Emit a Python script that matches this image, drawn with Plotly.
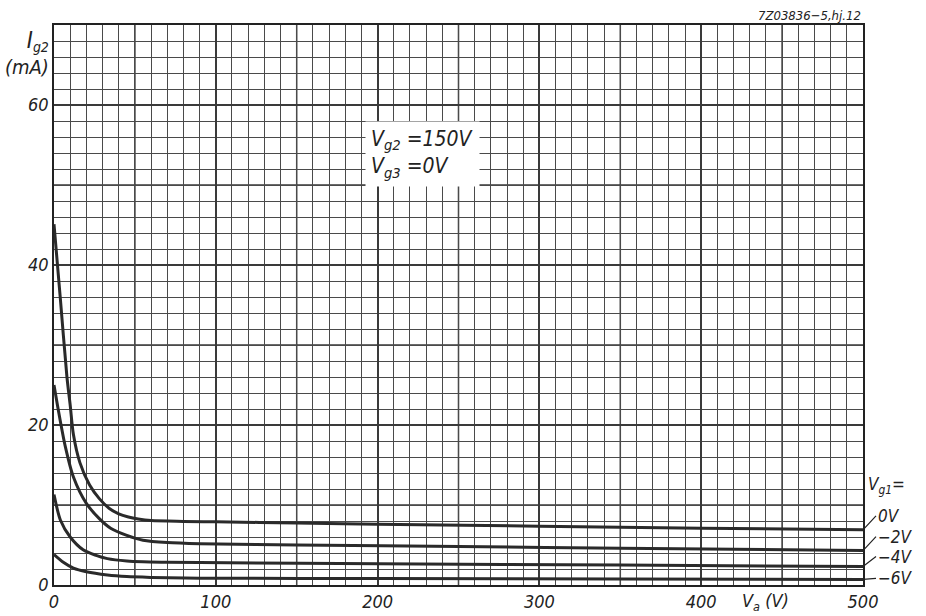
import plotly.graph_objects as go

# ---- data ----
va_0 = [0, 4, 8, 10, 12, 16, 22, 28, 34, 40, 46, 52, 60, 80, 100, 150, 200, 300, 400, 500]
ig2_0 = [45.1, 35.6, 26.0, 22.5, 18.8, 15.3, 12.5, 10.8, 9.6, 8.9, 8.5, 8.25, 8.05, 7.95, 7.9, 7.75, 7.6, 7.35, 7.1, 6.9]

va_m2 = [0, 3, 7, 12, 20, 28, 35, 45, 55, 70, 90, 150, 250, 350, 500]
ig2_m2 = [25.0, 21.5, 17.3, 13.5, 10.2, 8.3, 7.1, 6.2, 5.6, 5.3, 5.15, 5.0, 4.8, 4.6, 4.3]

va_m4 = [0, 4, 10, 18, 26, 33, 45, 55, 70, 90, 200, 350, 500]
ig2_m4 = [11.3, 8.1, 6.0, 4.4, 3.7, 3.3, 3.0, 2.9, 2.85, 2.8, 2.65, 2.5, 2.3]

va_m6 = [0, 6, 12, 20, 33, 45, 60, 90, 200, 350, 500]
ig2_m6 = [3.8, 2.8, 2.1, 1.65, 1.25, 1.05, 0.95, 0.85, 0.8, 0.75, 0.7]

curve_labels = ["0V", "\u22122V", "\u22124V", "\u22126V"]
x_tickvals = [0, 100, 200, 300, 400, 500]
y_tickvals = [0, 20, 40, 60]
x_heavy = [50, 150, 250, 350, 450]
y_heavy = [10, 30, 50]

FONT = "DejaVu Sans Condensed, DejaVu Sans, sans-serif"
INK = "#222222"
GRID = "#3a3a3a"

fig = go.Figure()
series = [(va_0, ig2_0), (va_m2, ig2_m2), (va_m4, ig2_m4), (va_m6, ig2_m6)]
for (xs, ys), name in zip(series, curve_labels):
    fig.add_trace(go.Scatter(x=xs, y=ys, mode="lines", name=name,
                             line=dict(color="#2a2a2a", width=3, shape="spline", smoothing=0.8),
                             showlegend=False, hoverinfo="x+y"))

tickfont = dict(family=FONT, size=18, color=INK, style="italic")
axis_common = dict(showline=True, mirror=True, linecolor=INK, linewidth=1.5,
                   showgrid=True, gridcolor=GRID, gridwidth=1.5, automargin=False,
                   zeroline=False, ticks="", tickfont=tickfont)

fig.update_xaxes(range=[0, 500], tickmode="array", tickvals=x_tickvals,
                 minor=dict(tickmode="linear", tick0=0, dtick=10, showgrid=True,
                            gridcolor="#4a4a4a", gridwidth=1), **axis_common)
fig.update_yaxes(range=[0, 70], tickmode="array", tickvals=y_tickvals,
                 minor=dict(tickmode="linear", tick0=0, dtick=2, showgrid=True,
                            gridcolor="#4a4a4a", gridwidth=1), **axis_common)

shapes = []
for xv in x_heavy:
    shapes.append(dict(type="line", xref="x", yref="paper", x0=xv, x1=xv, y0=0, y1=1,
                       line=dict(color=GRID, width=1.5), layer="below"))
for yv in y_heavy:
    shapes.append(dict(type="line", xref="paper", yref="y", x0=0, x1=1, y0=yv, y1=yv,
                       line=dict(color=GRID, width=1.5), layer="below"))

anns = []
# curve labels with leader lines
offsets = [(13, -14), (13, -14), (13, -10), (13, -1)]
for (xs, ys), name, (dx, dy) in zip(series, curve_labels, offsets):
    anns.append(dict(x=xs[-1], y=ys[-1], xref="x", yref="y", text=name,
                     showarrow=True, arrowhead=0, arrowwidth=1.2, arrowcolor=INK,
                     ax=dx, ay=dy, xanchor="left", yanchor="middle",
                     font=dict(family=FONT, size=17, color=INK, style="italic")))
anns.append(dict(x=1.004, y=12.4, xref="paper", yref="y", text="V<sub>g1</sub>=",
                 showarrow=False, xanchor="left", yanchor="middle",
                 font=dict(family=FONT, size=17, color=INK, style="italic")))
# conditions box
anns.append(dict(x=192, y=58, xref="x", yref="y", xanchor="left", yanchor="top", align="left",
                 text="V<sub>g2</sub> =150V<br>V<sub>g3</sub> =0V", showarrow=False,
                 bgcolor="white", borderpad=5,
                 font=dict(family=FONT, size=21, color=INK, style="italic")))
# axis titles
anns.append(dict(x=-0.004, y=1.0, xref="paper", yref="paper", xanchor="right", yanchor="top",
                 align="right", text="<span style='font-size:23px'>I</span><sub>g2</sub><br>(mA)",
                 showarrow=False,
                 font=dict(family=FONT, size=20, color=INK, style="italic")))
anns.append(dict(x=440, y=-0.005, xref="x", yref="paper", xanchor="center", yanchor="top",
                 text="V<sub>a</sub> (V)", showarrow=False,
                 font=dict(family=FONT, size=18, color=INK, style="italic")))
anns.append(dict(x=1.0, y=1.0, xref="paper", yref="paper", xanchor="right", yanchor="bottom",
                 text="7Z03836\u22125,hj.12", showarrow=False,
                 font=dict(family=FONT, size=13, color=INK, style="italic")))

fig.update_layout(width=926, height=616, margin=dict(l=54, r=63, t=25, b=31),
                  paper_bgcolor="white", plot_bgcolor="white",
                  annotations=anns, shapes=shapes)

fig.write_html("out.html", config={"displayModeBar": False},
               post_script="document.body.style.margin='0px';document.body.style.overflow='hidden';")
